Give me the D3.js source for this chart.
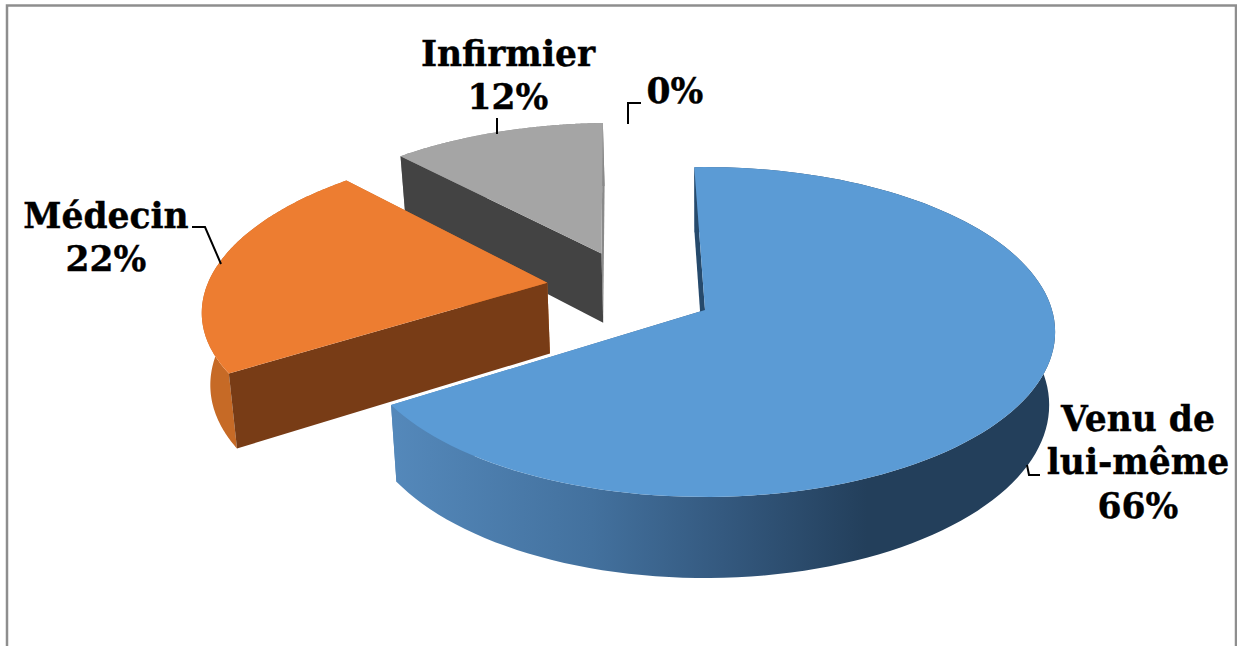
<!DOCTYPE html>
<html>
<head>
<meta charset="utf-8">
<script src="https://cdn.jsdelivr.net/npm/d3@7"></script>
<style>
    html, body { margin: 0; padding: 0; background: #fff; overflow: hidden; }
    text { font-family: "DejaVu Serif", serif; font-weight: bold; font-size: 34.5px; fill: #000; stroke: #000; stroke-width: 0.4px; }
</style>
</head>
<body>
<div id="chart"></div>
<script>
// Chart data
const categories = ["Venu de lui-même", "Médecin", "Infirmier", ""];
const values = [66.4, 22, 11.6, 0];
const labelLines = [["Venu de", "lui-même"], ["Médecin"], ["Infirmier"], []];
const colors = ["#5b9bd5", "#ed7d31", "#a5a5a5", "#ffc000"];
const rimColors = ["url(#blueSide)", "#c66a26", "#8a8a8a", "#ffc000"];
const cutColors = ["#264a6c", "#783c16", "#434343", "#ffc000"];

// Dimensions set up
const width = 1237, height = 646;

// Pie geometry: flat disc seen in perspective
const camera = 7.5, depth = 72, shrink = 0.017;
const rotation = -2 * Math.PI / 180;
const explode = [[0, 0], [-0.465, -0.172], [-0.313, -0.365], [0, 0]];

const x = d3.scaleLinear().domain([-1, 1]).range([705 - 347, 705 + 347]);
const y = d3.scaleLinear().domain([-1, 1]).range([310 - 162, 310 + 162]);

function project(u, v, z) {
    const s = camera / (camera - v);
    return [x(u * s * (1 - shrink * z)), y(v * s) + depth * z * (0.18 + 0.82 * s)];
}

// Point on the rim (or the apex when r = 0) of slice i
function point(i, angle, r, z) {
    const [cu, cv] = explode[i];
    return project(cu + r * Math.sin(angle), cv - r * Math.cos(angle), z);
}

function rim(i, a0, a1, z) {
    return d3.range(0, 121).map(k => point(i, a0 + (a1 - a0) * k / 120, 1, z));
}

const line = d3.line();
const closed = pts => line(pts) + "Z";

// SVG Creation
const svg = d3.select("#chart")
    .append("svg")
    .attr("width", width)
    .attr("height", height);

svg.append("rect")
    .attr("width", width)
    .attr("height", height)
    .attr("fill", "#fff");

// Side shading of the big slice
const grad = svg.append("defs").append("linearGradient")
    .attr("id", "blueSide")
    .attr("gradientUnits", "userSpaceOnUse")
    .attr("x1", 395).attr("x2", 1050).attr("y1", 0).attr("y2", 0);
[["0", "#5488ba"], ["0.3", "#43719e"], ["0.5", "#34597f"], ["0.72", "#233f5b"], ["1", "#233f5b"]]
    .forEach(s => grad.append("stop").attr("offset", s[0]).attr("stop-color", s[1]));

// Frame
svg.append("rect")
    .attr("x", 7).attr("y", 5.5)
    .attr("width", 1229).attr("height", 700)
    .attr("fill", "none")
    .attr("stroke", "#8e8e8e")
    .attr("stroke-width", 2.5);

const pie = d3.pie().sort(null)
    .startAngle(rotation)
    .endAngle(rotation + 2 * Math.PI);
const arcs = pie(values);

// Back to front so the nearer slices cover the others
[2, 0, 1].forEach(i => {
    const a0 = arcs[i].startAngle, a1 = arcs[i].endAngle;
    const g = svg.append("g").attr("class", "slice").datum(categories[i]);

    // Outer wall
    g.append("path")
        .attr("d", closed(rim(i, a0, a1, 0).concat(rim(i, a0, a1, 1).reverse())))
        .attr("fill", rimColors[i]);

    // Walls of both cuts
    g.append("path")
        .attr("d", closed([point(i, a1, 0, 0), point(i, a1, 1, 0), point(i, a1, 1, 1), point(i, a1, 0, 1)]))
        .attr("fill", rimColors[i]);
    g.append("path")
        .attr("d", closed([point(i, a0, 0, 0), point(i, a0, 1, 0), point(i, a0, 1, 1), point(i, a0, 0, 1)]))
        .attr("fill", cutColors[i]);

    // Top face
    g.append("path")
        .attr("d", closed([point(i, a0, 0, 0)].concat(rim(i, a0, a1, 0))))
        .attr("fill", colors[i]);
});

// Leader lines
const leaders = [
    [[1027, 465], [1029, 475], [1040, 475]],
    [[192, 227], [205, 227], [221, 264]],
    [[497, 118], [497, 134]],
    [[628, 124], [628, 103], [641, 103]]
];
svg.selectAll("path.leader")
    .data(leaders)
    .join("path")
    .attr("class", "leader")
    .attr("d", d => line(d))
    .attr("fill", "none")
    .attr("stroke", "#000")
    .attr("stroke-width", 2);

// Labels: name lines then the percentage
const labelPos = [
    { x: 1138, y: [431, 474, 518] },
    { x: 106, y: [228, 271] },
    { x: 508, y: [66, 109] },
    { x: 675, y: [103] }
];
labelPos.forEach((p, i) => {
    labelLines[i].concat(Math.round(values[i]) + "%").forEach((t, j) => {
        svg.append("text")
            .attr("x", p.x)
            .attr("y", p.y[j])
            .attr("text-anchor", "middle")
            .text(t);
    });
});
</script>
</body>
</html>
